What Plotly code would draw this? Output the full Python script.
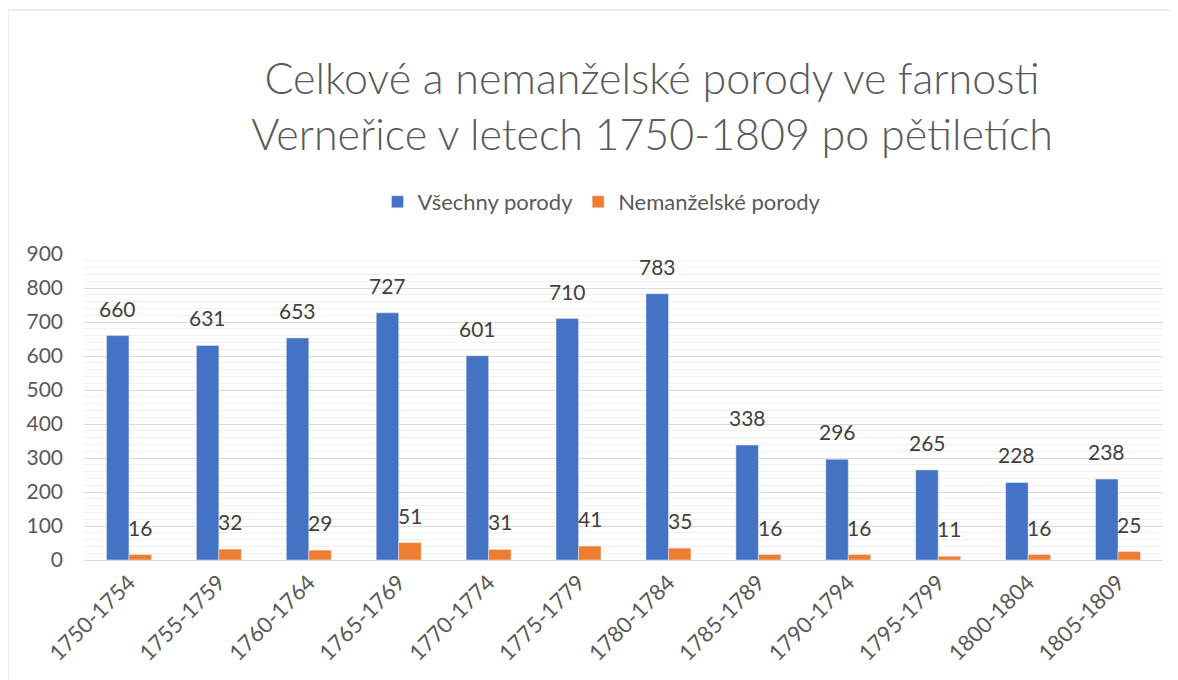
import plotly.graph_objects as go

categories = ["1750-1754", "1755-1759", "1760-1764", "1765-1769", "1770-1774", "1775-1779",
              "1780-1784", "1785-1789", "1790-1794", "1795-1799", "1800-1804", "1805-1809"]
vsechny = [660, 631, 653, 727, 601, 710, 783, 338, 296, 265, 228, 238]
nemanzelske = [16, 32, 29, 51, 31, 41, 35, 16, 16, 11, 16, 25]

series_names = ["Všechny porody", "Nemanželské porody"]
colors = ["#4472C4", "#ED7D31"]

FONT = "Lato, 'Open Sans', sans-serif"
OFF = 8  # page body margin
W, H = 1178 - OFF, 680 - OFF
# target screen positions of the plot area
PL, PR, PT, PB = 84, 1163, 254, 560
ML, MT = PL - OFF, PT - OFF
MR = W - (PR - OFF)
MB = H - (PB - OFF)
pw = W - ML - MR
ph = H - MT - MB


def py(screen_y):
    return (PB - screen_y) / ph


def px(screen_x):
    return (screen_x - PL) / pw


fig = go.Figure()
fig.add_trace(go.Bar(x=categories, y=vsechny, name=series_names[0], marker_color=colors[0],
                     hoverinfo="x+y"))
fig.add_trace(go.Bar(x=categories, y=nemanzelske, name=series_names[1], marker_color=colors[1],
                     hoverinfo="x+y"))

annotations = []
for vals, shift in ((vsechny, -11.2), (nemanzelske, 11.2)):
    for c, v in zip(categories, vals):
        annotations.append(dict(x=c, y=v, xref="x", yref="y", text=str(v), showarrow=False,
                                xshift=shift, yshift=13, yanchor="bottom", xanchor="center",
                                font=dict(family=FONT, size=21, color="#404040")))

shapes = [dict(type="rect", xref="paper", yref="paper",
               x0=px(8), x1=px(1200), y0=py(700), y1=py(10),
               line=dict(color="#D9D9D9", width=1), fillcolor="rgba(0,0,0,0)", layer="below")]

fig.update_layout(
    width=W, height=H,
    margin=dict(l=ML, r=MR, t=MT, b=MB),
    plot_bgcolor="white", paper_bgcolor="white",
    barmode="group", bargap=0.5, bargroupgap=0,
    title=dict(text="Celkové a nemanželské porody ve farnosti<br>Verneřice v letech 1750-1809 po pětiletích",
               x=(652 - OFF) / W, xanchor="center", y=1 - 86 / H, yanchor="middle", yref="container",
               xref="container",
               font=dict(family=FONT, size=43, color="#595959", weight=300)),
    legend=dict(orientation="h", x=px(602), xanchor="center", y=py(202), yanchor="middle",
                font=dict(family=FONT, size=22, color="#595959"), itemwidth=30,
                bgcolor="rgba(0,0,0,0)", tracegroupgap=0),
    xaxis=dict(tickangle=-45, tickfont=dict(family=FONT, size=22, color="#595959"),
               showgrid=False, showline=True, linecolor="#D9D9D9", linewidth=1, ticks=""),
    yaxis=dict(range=[0, 900], dtick=100, tickfont=dict(family=FONT, size=21, color="#595959"),
               showgrid=True, gridcolor="#D9D9D9", gridwidth=1, zeroline=False, ticks="",
               minor=dict(dtick=20, showgrid=True, gridcolor="#F0F0F0", gridwidth=1),
               ticklabelstandoff=20),
    annotations=annotations,
    shapes=shapes,
    showlegend=True,
)

fig.write_html("out.html")
